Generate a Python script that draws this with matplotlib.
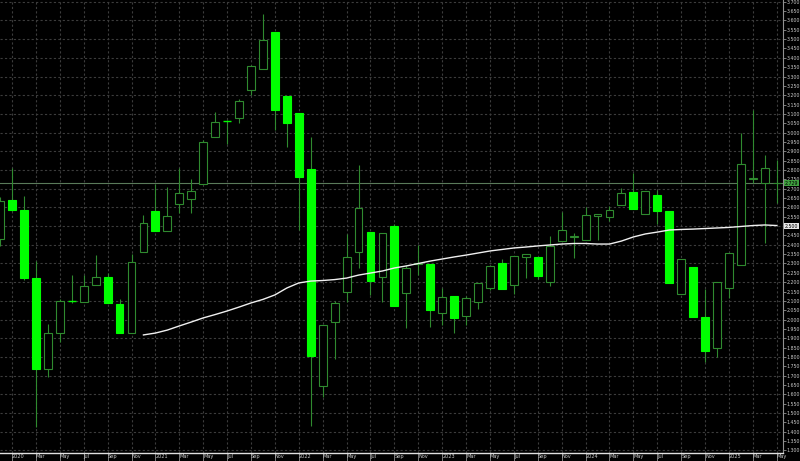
import numpy as np
import matplotlib
matplotlib.use("Agg")
import matplotlib.pyplot as plt
from matplotlib.patches import Rectangle

# monthly candles, Dec 2019 .. May 2025
opens = [2.431, 2.638, 2.588, 2.221, 1.736, 1.927, 2.100, 2.094, 2.183, 2.228, 2.083, 1.927,
         2.360, 2.581, 2.472, 2.617, 2.643, 2.727, 2.978, 3.062, 3.076, 3.228, 3.342, 3.536,
         3.197, 3.106, 2.805, 1.645, 1.989, 2.149, 2.360, 2.467, 2.226, 2.501, 2.141, 2.295,
         2.297, 2.034, 2.128, 2.021, 2.096, 2.167, 2.301, 2.185, 2.336, 2.336, 2.200, 2.422,
         2.440, 2.426, 2.556, 2.550, 2.613, 2.681, 2.565, 2.666, 2.582, 2.135, 2.280, 2.015,
         1.846, 2.167, 2.292, 2.754, 2.729, 2.728]
highs = [2.656, 2.811, 2.661, 2.315, 1.977, 2.110, 2.239, 2.239, 2.345, 2.249, 2.109, 2.353,
         2.559, 2.724, 2.711, 2.809, 2.752, 2.960, 3.112, 3.070, 3.181, 3.361, 3.634, 3.538,
         3.197, 3.106, 2.975, 1.970, 2.101, 2.456, 2.827, 2.467, 2.462, 2.511, 2.292, 2.399,
         2.297, 2.167, 2.128, 2.126, 2.194, 2.288, 2.322, 2.342, 2.349, 2.336, 2.447, 2.574,
         2.465, 2.604, 2.563, 2.607, 2.705, 2.782, 2.689, 2.693, 2.582, 2.322, 2.280, 2.162,
         2.203, 2.355, 2.999, 3.121, 2.880, 2.854]
lows = [2.394, 2.581, 2.212, 1.424, 1.691, 1.882, 2.089, 2.094, 2.183, 2.090, 1.927, 1.927,
        2.360, 2.474, 2.472, 2.569, 2.569, 2.725, 2.976, 2.939, 3.053, 3.201, 3.340, 3.014,
        2.925, 2.479, 1.433, 1.585, 1.788, 2.096, 2.274, 2.132, 2.096, 2.071, 1.954, 2.239,
        1.962, 1.971, 1.927, 1.971, 2.055, 2.158, 2.164, 2.135, 2.221, 2.217, 2.181, 2.422,
        2.331, 2.426, 2.426, 2.527, 2.613, 2.591, 2.565, 2.511, 2.197, 2.135, 2.012, 1.775,
        1.802, 2.114, 2.292, 2.729, 2.408, 2.622]
closes = [2.636, 2.588, 2.222, 1.734, 1.927, 2.100, 2.100, 2.181, 2.229, 2.090, 1.927, 2.306,
          2.515, 2.476, 2.556, 2.675, 2.689, 2.950, 3.058, 3.062, 3.167, 3.356, 3.495, 3.121,
          3.053, 2.763, 1.805, 1.970, 2.087, 2.333, 2.598, 2.206, 2.462, 2.071, 2.274, 2.300,
          2.051, 2.122, 2.007, 2.114, 2.194, 2.288, 2.164, 2.342, 2.349, 2.233, 2.395, 2.479,
          2.449, 2.558, 2.563, 2.586, 2.675, 2.591, 2.689, 2.581, 2.197, 2.322, 2.012, 1.832,
          2.203, 2.355, 2.830, 2.756, 2.809, 2.729]

# moving average, drawn from Dec 2020 (index 12) on
ma_start = 12
ma_values = [1.918, 1.928, 1.944, 1.966, 1.987, 2.009, 2.027, 2.046, 2.067, 2.089, 2.108,
             2.132, 2.169, 2.196, 2.206, 2.209, 2.214, 2.222, 2.238, 2.249, 2.260, 2.276,
             2.287, 2.300, 2.313, 2.324, 2.335, 2.345, 2.356, 2.367, 2.375, 2.383, 2.388,
             2.394, 2.399, 2.404, 2.407, 2.407, 2.404, 2.404, 2.420, 2.442, 2.458, 2.468,
             2.479, 2.482, 2.484, 2.487, 2.490, 2.493, 2.498, 2.503, 2.506, 2.503]

month_names = ["Jan", "Feb", "Mar", "Apr", "May", "Jun",
               "Jul", "Aug", "Sep", "Oct", "Nov", "Dec"]
bid = 2.729
ma_label = 2.500

lime = "#00ff00"
dark = "#2f8a2f"
grid_c = "#3c3c3c"
txt_c = "#c8c8c8"

fig = plt.figure(figsize=(8, 4.61), dpi=100, facecolor="black")
ax = fig.add_axes([0, 8 / 461, 783 / 800, 453 / 461], facecolor="black")

n = len(opens)
x = np.arange(n)
bw = 0.66

# grid
for p in np.arange(1.30, 3.701, 0.10):
    ax.axhline(p, color=grid_c, lw=0.8, ls=(0, (2, 2)), zorder=0)
for k in range(1, n, 2):
    ax.axvline(k, color=grid_c, lw=0.8, ls=(0, (2, 2)), zorder=0)

ax.axhline(bid, color="#5a7a5a", lw=0.8, zorder=1)

for k in range(n):
    o, h, l, c = opens[k], highs[k], lows[k], closes[k]
    ax.vlines(k, l, h, color=dark, lw=0.8, zorder=2)
    if c > o:
        ax.add_patch(Rectangle((k - bw / 2, o), bw, c - o, facecolor="black",
                               edgecolor=dark, lw=0.8, zorder=3))
    elif c < o:
        ax.add_patch(Rectangle((k - bw / 2, c), bw, o - c, facecolor=lime,
                               edgecolor=lime, lw=0.8, zorder=3))
    else:
        ax.hlines(o, k - bw / 2, k + bw / 2, color=lime, lw=1.0, zorder=3)

ax.plot(np.arange(ma_start, ma_start + len(ma_values)), ma_values,
        color="#f0f0f0", lw=1.0, zorder=4)

ax.set_xlim(-0.005, 65.52)
ax.set_ylim(1.2866, 3.7091)

# axes look
for s in ["top", "left"]:
    ax.spines[s].set_visible(False)
ax.spines["right"].set_color("#909090")
ax.spines["right"].set_linewidth(0.8)
ax.spines["bottom"].set_color("#e0e0e0")
ax.spines["bottom"].set_linewidth(1.0)

yt = np.round(np.arange(1.30, 3.701, 0.05), 3)
ax.yaxis.tick_right()
ax.set_yticks(yt)
ax.set_yticklabels(["" if abs(v - ma_label) < 1e-6 else "%.3f" % v for v in yt])
ax.tick_params(axis="y", colors="#909090", labelcolor=txt_c, labelsize=3.4,
               length=2, width=0.6, pad=0.8)

xt = list(range(1, n, 2))
xl = []
for k in xt:
    m = (k - 1) % 12
    xl.append(str(2020 + (k - 1) // 12) if m == 0 else month_names[m])
ax.set_xticks(xt)
ax.set_xticklabels(xl)
ax.tick_params(axis="x", colors="#909090", labelcolor=txt_c, labelsize=3.6,
               length=6, width=0.6, pad=-5, direction="out")
for t in ax.get_xticklabels():
    t.set_horizontalalignment("left")

# price boxes on the axis
ax.annotate("%.3f" % bid, xy=(1.0, bid), xycoords=("axes fraction", "data"),
            xytext=(1.2, 0), textcoords="offset points", fontsize=3.4, color="black",
            va="center", ha="left",
            bbox=dict(boxstyle="square,pad=0.15", fc="#3fa03f", ec="none"))
ax.annotate("%.3f" % ma_label, xy=(1.0, ma_label), xycoords=("axes fraction", "data"),
            xytext=(1.2, 0), textcoords="offset points", fontsize=3.4, color="black",
            va="center", ha="left",
            bbox=dict(boxstyle="square,pad=0.15", fc="#e8e8e8", ec="none"))

fig.savefig("out.png", dpi=100, facecolor="black")
